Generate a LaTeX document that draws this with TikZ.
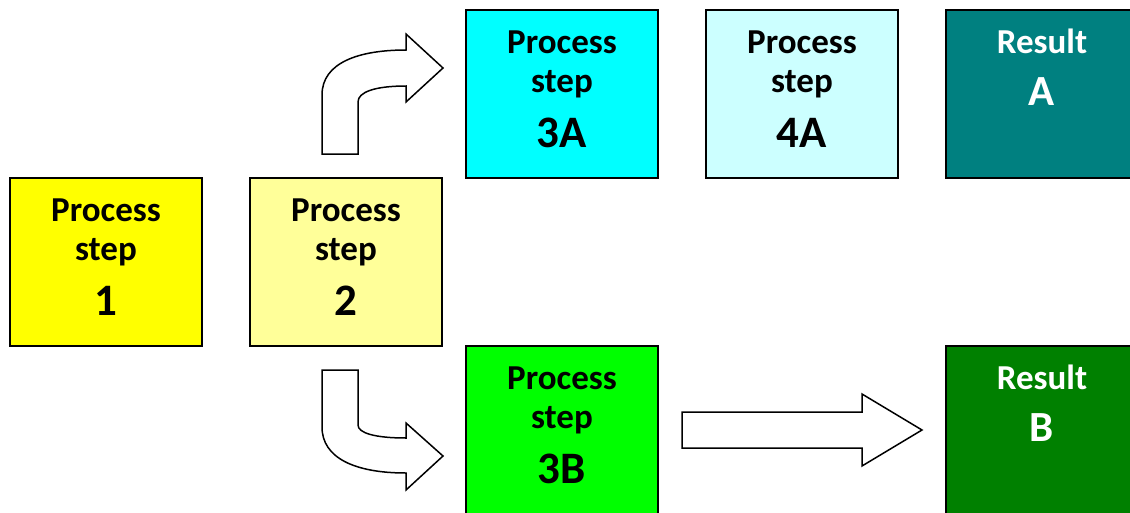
\documentclass[tikz,border=0pt]{standalone}
\usepackage{fontspec}
\setmainfont{Carlito}
\definecolor{cYel}{HTML}{FFFF00}
\definecolor{cLYel}{HTML}{FFFF99}
\definecolor{cCyan}{HTML}{00FFFF}
\definecolor{cLCyan}{HTML}{CCFFFF}
\definecolor{cTeal}{HTML}{008080}
\definecolor{cGreen}{HTML}{00FF00}
\definecolor{cDGreen}{HTML}{008000}
\tikzset{
 box/.style={draw=black, line width=1.5pt, minimum width=192pt, minimum height=168pt, anchor=north west, inner sep=0pt, outer sep=0pt},
 lbl/.style={anchor=base, inner sep=0pt, font=\fontsize{35}{35}\selectfont\bfseries},
 big/.style={anchor=base, inner sep=0pt, font=\fontsize{45}{45}\selectfont\bfseries},
 bigr/.style={anchor=base, inner sep=0pt, font=\fontsize{43}{43}\selectfont\bfseries},
 blockarrow/.style={draw=black, line width=1.5pt, fill=white, line join=miter},
}
\begin{document}
\begin{tikzpicture}[x=1pt,y=-1pt]
\useasboundingbox (0,0) rectangle (1130,512);
\clip (0,0) rectangle (1130,512);
% boxes
\node[box, fill=cYel]   (s1) at (10,178) {};
\node[box, fill=cLYel]  (s2) at (250,178) {};
\node[box, fill=cCyan]  (s3a) at (466,10) {};
\node[box, fill=cLCyan] (s4a) at (706,10) {};
\node[box, fill=cTeal]  (ra) at (946,10) {};
\node[box, fill=cGreen] (s3b) at (466,346) {};
\node[box, fill=cDGreen] (rb) at (946,346) {};
% texts
\foreach \b/\n in {s1/1, s2/2, s3a/3A, s4a/4A, s3b/3B}{
  \node[lbl] (\b-p) at ([yshift=-43.5pt]\b.north) {Process};
  \node[lbl] (\b-s) at ([yshift=-82.5pt]\b.north) {step};
  \node[big] (\b-n) at ([yshift=-137pt]\b.north) {\n};
}
\node[lbl, text=white] (ra-r) at ([yshift=-43pt]ra.north) {Result};
\node[bigr, text=white] (ra-n) at ([yshift=-95pt]ra.north) {A};
\node[lbl, text=white] (rb-r) at ([yshift=-43pt]rb.north) {Result};
\node[bigr, text=white] (rb-n) at ([yshift=-95pt]rb.north) {B};
% block arrows
\draw[blockarrow] (322,154) -- (322,95) .. controls (322,62) and (360,50) .. (406,50)
  -- (406,34) -- (443,68) -- (406,102) -- (406,86)
  .. controls (375,86) and (358,92) .. (358,102) -- (358,154) -- cycle;
\draw[blockarrow] (322,370) -- (358,370) -- (358,425)
  .. controls (358,433) and (375,438) .. (406,438)
  -- (406,423) -- (443,456) -- (406,490) -- (406,473)
  .. controls (355,473) and (322,458) .. (322,427) -- cycle;
\draw[blockarrow] (682,412) -- (862,412) -- (862,394) -- (922,430) -- (862,466) -- (862,448) -- (682,448) -- cycle;
\end{tikzpicture}
\end{document}
